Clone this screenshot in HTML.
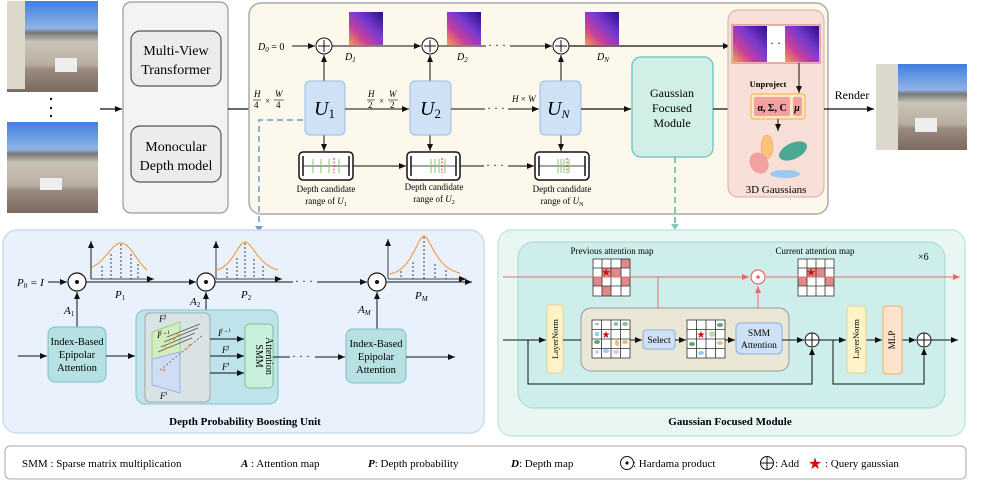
<!DOCTYPE html>
<html><head><meta charset="utf-8"><style>
html,body{margin:0;padding:0;background:#fff;}
svg{display:block;font-family:"Liberation Serif",serif;}
</style></head><body>
<svg width="996" height="482" viewBox="0 0 996 482" xmlns="http://www.w3.org/2000/svg">
<defs>
<marker id="ar" markerWidth="8" markerHeight="8" refX="7" refY="4" orient="auto" markerUnits="userSpaceOnUse"><path d="M0,1 L7,4 L0,7 Z" fill="#111"/></marker>
<marker id="arr" markerWidth="8" markerHeight="8" refX="7" refY="4" orient="auto" markerUnits="userSpaceOnUse"><path d="M0,1 L7,4 L0,7 Z" fill="#e86a6a"/></marker>
<linearGradient id="dep" x1="0" y1="1" x2="1" y2="0"><stop offset="0" stop-color="#f3a04a"/><stop offset="0.3" stop-color="#c8409a"/><stop offset="0.6" stop-color="#7a3ad0"/><stop offset="1" stop-color="#2a0e88"/></linearGradient>
<linearGradient id="ph" x1="0" y1="0" x2="0" y2="1"><stop offset="0" stop-color="#3f7fe0"/><stop offset="0.3" stop-color="#8fb3e6"/><stop offset="0.35" stop-color="#777"/><stop offset="0.45" stop-color="#c9c4b8"/><stop offset="0.7" stop-color="#b8aea0"/><stop offset="0.75" stop-color="#9a8a80"/><stop offset="1" stop-color="#7a6a60"/></linearGradient>
</defs>

<!-- left photos -->
<rect x="7" y="1" width="91" height="91" fill="url(#ph)"/>
<rect x="7" y="1" width="18" height="88" fill="#ddd8cc"/>
<rect x="55" y="58" width="22" height="14" fill="#eee"/>
<circle cx="51" cy="99" r="1.2" fill="#111"/><circle cx="51" cy="108" r="1.2" fill="#111"/><circle cx="51" cy="116" r="1.2" fill="#111"/>
<rect x="7" y="122" width="91" height="91" fill="url(#ph)"/>
<rect x="40" y="178" width="22" height="12" fill="#eee"/>
<line x1="100" y1="109" x2="122" y2="109" stroke="#111" stroke-width="1.3" marker-end="url(#ar)"/>

<!-- grey box -->
<rect x="123" y="2" width="105" height="211" rx="8" fill="#f3f3f3" stroke="#999" stroke-width="1.2"/>
<rect x="131" y="31" width="90" height="55" rx="9" fill="#ececec" stroke="#555" stroke-width="1.2"/>
<text x="176" y="55" font-size="14" text-anchor="middle">Multi-View</text>
<text x="176" y="74" font-size="14" text-anchor="middle">Transformer</text>
<rect x="131" y="126" width="90" height="56" rx="9" fill="#ececec" stroke="#555" stroke-width="1.2"/>
<text x="176" y="151" font-size="14" text-anchor="middle">Monocular</text>
<text x="176" y="170" font-size="14" text-anchor="middle">Depth model</text>
<line x1="228" y1="109" x2="304" y2="109" stroke="#111" stroke-width="1.3" marker-end="url(#ar)"/>

<!-- main box -->
<rect x="249" y="3" width="579" height="211" rx="12" fill="#fcf8ec" stroke="#aaa" stroke-width="1.5"/>
<!-- depth line -->
<text x="258" y="50" font-size="10" font-style="italic">D<tspan font-size="7" dy="2">0</tspan><tspan dy="-2" font-style="normal"> = 0</tspan></text>
<line x1="292" y1="46" x2="315" y2="46" stroke="#111" stroke-width="1" marker-end="url(#ar)"/>
<g stroke="#111" stroke-width="1" fill="#fff">
<circle cx="324" cy="46" r="8"/><circle cx="430" cy="46" r="8"/><circle cx="561" cy="46" r="8"/>
</g>
<g stroke="#111" stroke-width="1"><path d="M318,46h12M324,40v12M424,46h12M430,40v12M555,46h12M561,40v12"/></g>
<line x1="332" y1="46" x2="421" y2="46" stroke="#111" stroke-width="1" marker-end="url(#ar)"/>
<line x1="438" y1="46" x2="486" y2="46" stroke="#111" stroke-width="1"/>
<text x="488" y="49" font-size="12">· · ·</text>
<line x1="510" y1="46" x2="552" y2="46" stroke="#111" stroke-width="1" marker-end="url(#ar)"/>
<line x1="569" y1="46" x2="730" y2="46" stroke="#111" stroke-width="1.3" marker-end="url(#ar)"/>
<rect x="349" y="12" width="34" height="33" fill="url(#dep)"/>
<rect x="447" y="12" width="34" height="33" fill="url(#dep)"/>
<rect x="585" y="12" width="34" height="33" fill="url(#dep)"/>
<text x="345" y="60" font-size="10" font-style="italic">D<tspan font-size="7" dy="2">1</tspan></text>
<text x="457" y="60" font-size="10" font-style="italic">D<tspan font-size="7" dy="2">2</tspan></text>
<text x="597" y="60" font-size="10" font-style="italic">D<tspan font-size="7" dy="2">N</tspan></text>
<!-- vertical arrows U->plus -->
<g stroke="#111" stroke-width="1">
<line x1="324" y1="81" x2="324" y2="55" marker-end="url(#ar)"/>
<line x1="430" y1="81" x2="430" y2="55" marker-end="url(#ar)"/>
<line x1="561" y1="81" x2="561" y2="55" marker-end="url(#ar)"/>
<line x1="324" y1="135" x2="324" y2="151" marker-end="url(#ar)"/>
<line x1="430" y1="135" x2="430" y2="151" marker-end="url(#ar)"/>
<line x1="561" y1="135" x2="561" y2="151" marker-end="url(#ar)"/>
</g>
<!-- U boxes -->
<g fill="#cfe2f5" stroke="#9bbbe0" stroke-width="1">
<rect x="305" y="81" width="40" height="54" rx="5"/>
<rect x="410" y="81" width="41" height="54" rx="5"/>
<rect x="540" y="81" width="41" height="54" rx="5"/>
</g>
<text x="314" y="115" font-size="20" font-style="italic">U<tspan font-size="13" dy="3" font-style="normal">1</tspan></text>
<text x="420" y="115" font-size="20" font-style="italic">U<tspan font-size="13" dy="3" font-style="normal">2</tspan></text>
<text x="547" y="115" font-size="20" font-style="italic">U<tspan font-size="12" dy="3">N</tspan></text>
<!-- main flow -->
<g font-size="9" font-style="italic">
<text x="254" y="97">H</text><line x1="253" y1="100" x2="261" y2="100" stroke="#111" stroke-width="0.6"/><text x="254" y="108" font-style="normal">4</text>
<text x="265" y="104" font-style="normal">×</text>
<text x="275" y="97">W</text><line x1="274" y1="100" x2="284" y2="100" stroke="#111" stroke-width="0.6"/><text x="276" y="108" font-style="normal">4</text>
<text x="368" y="97">H</text><line x1="367" y1="100" x2="375" y2="100" stroke="#111" stroke-width="0.6"/><text x="368" y="108" font-style="normal">2</text>
<text x="379" y="104" font-style="normal">×</text>
<text x="389" y="97">W</text><line x1="388" y1="100" x2="398" y2="100" stroke="#111" stroke-width="0.6"/><text x="390" y="108" font-style="normal">2</text>
<text x="512" y="102">H <tspan font-style="normal">×</tspan> W</text>
</g>
<line x1="345" y1="109" x2="409" y2="109" stroke="#111" stroke-width="1" marker-end="url(#ar)"/>
<line x1="451" y1="109" x2="485" y2="109" stroke="#111" stroke-width="1"/>
<text x="487" y="112" font-size="12">· · ·</text>
<line x1="508" y1="109" x2="539" y2="109" stroke="#111" stroke-width="1" marker-end="url(#ar)"/>
<line x1="581" y1="109" x2="631" y2="109" stroke="#111" stroke-width="1.3" marker-end="url(#ar)"/>
<!-- candidate boxes -->
<g>
<rect x="299" y="152" width="54" height="28" rx="4" fill="#fff" stroke="#111" stroke-width="1.5"/>
<rect x="407" y="152" width="53" height="28" rx="4" fill="#fff" stroke="#111" stroke-width="1.5"/>
<rect x="535" y="152" width="54" height="28" rx="4" fill="#fff" stroke="#111" stroke-width="1.5"/>
<g stroke="#111" stroke-width="1.5"><path d="M303,156v20M349,156v20M411,156v20M456,156v20M539,156v20M585,156v20"/></g>
<g stroke="#111" stroke-width="0.8"><path d="M303,166h46M411,166h45M539,166h46"/></g>
<g stroke="#8cc46a" stroke-width="1"><path d="M313,159v14M321,159v14M329,159v14M339,159v14M431,159v14M435,159v14M439,159v14M445,159v14M558,159v14M561,159v14M564,159v14M569,159v14"/></g>
<g stroke="#e03030" stroke-width="1" stroke-dasharray="2,1.5"><path d="M334,158v15M442,158v15M567,158v15"/></g>
</g>
<line x1="353" y1="166" x2="406" y2="166" stroke="#111" stroke-width="1" marker-end="url(#ar)"/>
<line x1="460" y1="166" x2="484" y2="166" stroke="#111" stroke-width="1"/>
<text x="486" y="169" font-size="12">· · ·</text>
<line x1="508" y1="166" x2="534" y2="166" stroke="#111" stroke-width="1" marker-end="url(#ar)"/>
<g font-size="9" text-anchor="middle">
<text x="326" y="192">Depth candidate</text><text x="326" y="204">range of <tspan font-style="italic">U</tspan><tspan font-size="6" dy="2">1</tspan></text>
<text x="434" y="190">Depth candidate</text><text x="434" y="202">range of <tspan font-style="italic">U</tspan><tspan font-size="6" dy="2">2</tspan></text>
<text x="562" y="192">Depth candidate</text><text x="562" y="204">range of <tspan font-style="italic">U</tspan><tspan font-size="6" dy="2">N</tspan></text>
</g>
<!-- GFM -->
<rect x="632" y="57" width="81" height="100" rx="9" fill="#d2efe7" stroke="#6fcfc0" stroke-width="1.5"/>
<text x="672" y="97" font-size="12" text-anchor="middle">Gaussian</text>
<text x="672" y="112" font-size="12" text-anchor="middle">Focused</text>
<text x="672" y="127" font-size="12" text-anchor="middle">Module</text>
<line x1="713" y1="109" x2="750" y2="109" stroke="#111" stroke-width="1.3" marker-end="url(#ar)"/>
<!-- 3D Gaussians -->
<rect x="728" y="10" width="96" height="187" rx="10" fill="#f8dfd8" stroke="#ccb0a8" stroke-width="1"/>
<rect x="732" y="25" width="88" height="38" fill="#fff" stroke="#d46a6a" stroke-width="1"/>
<rect x="733" y="26" width="34" height="36" fill="url(#dep)"/>
<text x="770" y="47" font-size="12">· · ·</text>
<rect x="785" y="26" width="34" height="36" fill="url(#dep)"/>
<text x="768" y="87" font-size="8.5" text-anchor="middle" font-weight="bold">Unproject</text>
<line x1="799" y1="63" x2="799" y2="93" stroke="#111" stroke-width="1" marker-end="url(#ar)"/>
<rect x="751" y="94" width="54" height="25" rx="3" fill="#fde9c0" stroke="#f0b040" stroke-width="1"/>
<rect x="754" y="97" width="36" height="19" rx="2" fill="#f2a0a0"/>
<rect x="793" y="97" width="9" height="19" rx="2" fill="#f2a0a0"/>
<text x="772" y="111" font-size="10" font-weight="bold" text-anchor="middle">α, Σ, C</text>
<text x="797" y="111" font-size="10" font-weight="bold" font-style="italic" text-anchor="middle">μ</text>
<line x1="778" y1="119" x2="778" y2="131" stroke="#111" stroke-width="1" marker-end="url(#ar)"/>
<ellipse cx="767" cy="147" rx="6" ry="12" fill="#fbc27a" stroke="#f0a050" stroke-width="0.5"/>
<ellipse cx="793" cy="151" rx="15" ry="8" transform="rotate(-25 793 151)" fill="#4aa894"/>
<ellipse cx="759" cy="163" rx="9" ry="11" transform="rotate(-30 759 163)" fill="#f2a0a0"/>
<ellipse cx="785" cy="174" rx="15" ry="4" fill="#9cc9f2"/>
<text x="776" y="193" font-size="11" text-anchor="middle">3D Gaussians</text>
<!-- render -->
<line x1="824" y1="109" x2="874" y2="109" stroke="#111" stroke-width="1.3" marker-end="url(#ar)"/>
<text x="852" y="99" font-size="12" text-anchor="middle">Render</text>
<rect x="876" y="64" width="91" height="86" fill="url(#ph)"/>
<rect x="876" y="64" width="22" height="86" fill="#ddd8cc"/>
<rect x="915" y="118" width="22" height="14" fill="#eee"/>

<!-- dashed connectors -->
<path d="M303,120 H259 V226" fill="none" stroke="#8fb0d8" stroke-width="2" stroke-dasharray="6,4"/>
<path d="M255,226 L263,226 L259,232 Z" fill="#7a98c8"/>
<path d="M675,157 V224" fill="none" stroke="#7cc8b8" stroke-width="2" stroke-dasharray="6,4"/>
<path d="M671,224 L679,224 L675,230 Z" fill="#7cc8b8"/>

<!-- ===== bottom left panel ===== -->
<rect x="3" y="230" width="481" height="203" rx="14" fill="#e9f2fc" stroke="#c8dcef" stroke-width="1.5"/>
<text x="17" y="286" font-size="11" font-style="italic">P<tspan font-size="7" dy="2" font-style="normal">0</tspan><tspan dy="-2"> = I</tspan></text>
<line x1="48" y1="282" x2="67" y2="282" stroke="#111" stroke-width="1" marker-end="url(#ar)"/>
<g stroke="#111" stroke-width="1.2" fill="#fff">
<circle cx="77" cy="282" r="9"/><circle cx="206" cy="282" r="9"/><circle cx="377" cy="282" r="9"/>
</g>
<circle cx="77" cy="282" r="2" fill="#111"/><circle cx="206" cy="282" r="2" fill="#111"/><circle cx="377" cy="282" r="2" fill="#111"/>
<line x1="86" y1="282" x2="196" y2="282" stroke="#111" stroke-width="1" marker-end="url(#ar)"/>
<line x1="215" y1="282" x2="293" y2="282" stroke="#111" stroke-width="1"/>
<text x="295" y="285" font-size="12">· · ·</text>
<line x1="317" y1="282" x2="367" y2="282" stroke="#111" stroke-width="1" marker-end="url(#ar)"/>
<line x1="386" y1="282" x2="472" y2="282" stroke="#111" stroke-width="1" marker-end="url(#ar)"/>
<!-- plots -->
<g stroke="#111" stroke-width="0.8" fill="none">
<path d="M91,279 V241 M91,279 H154" marker-end="url(#ar)"/>
<line x1="91" y1="279" x2="91" y2="241" marker-end="url(#ar)"/>
<line x1="216" y1="279" x2="216" y2="241" marker-end="url(#ar)"/>
<line x1="216" y1="279" x2="282" y2="279" marker-end="url(#ar)"/>
<line x1="388" y1="279" x2="388" y2="239" marker-end="url(#ar)"/>
<line x1="388" y1="279" x2="466" y2="279" marker-end="url(#ar)"/>
</g>
<g stroke="#f0a050" stroke-width="1.2" fill="none">
<path d="M92,267 C105,262 112,243 121,243 C130,243 137,262 147,270"/>
<path d="M216,270 C232,268 238,242 245,242 C252,242 258,265 278,270"/>
<path d="M390,274 C412,270 418,236 424,236 C430,236 435,268 460,273"/>
</g>
<g stroke="#111" stroke-width="0.8" stroke-dasharray="2,2">
<path d="M102,266V279M111,254V279M121,244V279M131,254V279M138,264V279"/>
<path d="M227,268V279M237,258V279M245,243V279M254,259V279M263,266V279"/>
<path d="M401,271V279M413,262V279M424,237V279M435,264V279M446,270V279"/>
</g>
<text x="115" y="298" font-size="11" font-style="italic">P<tspan font-size="7" dy="2" font-style="normal">1</tspan></text>
<text x="241" y="298" font-size="11" font-style="italic">P<tspan font-size="7" dy="2" font-style="normal">2</tspan></text>
<text x="415" y="299" font-size="11" font-style="italic">P<tspan font-size="7" dy="2">M</tspan></text>
<text x="64" y="314" font-size="11" font-style="italic">A<tspan font-size="7" dy="2" font-style="normal">1</tspan></text>
<text x="190" y="305" font-size="11" font-style="italic">A<tspan font-size="7" dy="2" font-style="normal">2</tspan></text>
<text x="358" y="313" font-size="11" font-style="italic">A<tspan font-size="7" dy="2">M</tspan></text>
<line x1="77" y1="327" x2="77" y2="292" stroke="#111" stroke-width="1" marker-end="url(#ar)"/>
<line x1="206" y1="310" x2="206" y2="292" stroke="#111" stroke-width="1" marker-end="url(#ar)"/>
<line x1="377" y1="329" x2="377" y2="292" stroke="#111" stroke-width="1" marker-end="url(#ar)"/>
<!-- index boxes -->
<rect x="48" y="327" width="58" height="55" rx="7" fill="#b7e0e2" stroke="#76c0c6" stroke-width="1"/>
<g font-size="10.5" text-anchor="middle"><text x="77" y="345">Index-Based</text><text x="77" y="358">Epipolar</text><text x="77" y="371">Attention</text></g>
<rect x="346" y="329" width="60" height="54" rx="7" fill="#b7e0e2" stroke="#76c0c6" stroke-width="1"/>
<g font-size="10.5" text-anchor="middle"><text x="376" y="347">Index-Based</text><text x="376" y="360">Epipolar</text><text x="376" y="373">Attention</text></g>
<line x1="18" y1="356" x2="47" y2="356" stroke="#111" stroke-width="1" marker-end="url(#ar)"/>
<line x1="106" y1="356" x2="135" y2="356" stroke="#111" stroke-width="1" marker-end="url(#ar)"/>
<!-- middle box -->
<rect x="136" y="310" width="142" height="94" rx="9" fill="#bfe3ea" stroke="#7ec4cc" stroke-width="1"/>
<rect x="145" y="313" width="65" height="89" rx="5" fill="#d9e3e6" stroke="#999" stroke-width="0.8"/>
<polygon points="152,332 180,322 180,357 152,367" fill="#d3ecc0" stroke="#8cc46a" stroke-width="0.7"/>
<polygon points="152,359 180,352 180,393 152,385" fill="#cfdcf4" stroke="#8aa6d8" stroke-width="0.7"/>
<g stroke="#555" stroke-width="0.7">
<path d="M158,352L192,338M161,347L195,333M164,342L198,328M167,337L200,324"/>
</g>
<path d="M160,370 L203,335" stroke="#555" stroke-width="0.7" stroke-dasharray="2,2"/>
<g fill="#f29a3a"><circle cx="166" cy="348" r="1.3"/><circle cx="170" cy="343" r="1.3"/><circle cx="174" cy="339" r="1.3"/><circle cx="178" cy="335" r="1.3"/><circle cx="186" cy="349" r="1.3"/><circle cx="190" cy="345" r="1.3"/><circle cx="164" cy="370" r="1.3"/></g>
<text x="159" y="322" font-size="9" font-style="italic">F<tspan font-size="6" dy="-4">j</tspan></text>
<text x="157" y="338" font-size="9" font-style="italic">I<tspan font-size="6" dy="-4">j→i</tspan></text>
<text x="160" y="399" font-size="9" font-style="italic">F<tspan font-size="6" dy="-4">i</tspan></text>
<g stroke="#111" stroke-width="1">
<line x1="210" y1="339" x2="244" y2="339" marker-end="url(#ar)"/>
<line x1="210" y1="356" x2="244" y2="356" marker-end="url(#ar)"/>
<line x1="210" y1="373" x2="244" y2="373" marker-end="url(#ar)"/>
</g>
<text x="218" y="336" font-size="9" font-style="italic">I<tspan font-size="6" dy="-4">j→i</tspan></text>
<text x="222" y="353" font-size="9" font-style="italic">F<tspan font-size="6" dy="-4">j</tspan></text>
<text x="222" y="370" font-size="9" font-style="italic">F<tspan font-size="6" dy="-4">i</tspan></text>
<rect x="245" y="324" width="28" height="64" rx="4" fill="#c9f0dc" stroke="#7cbf9a" stroke-width="1"/>
<text transform="translate(256,356) rotate(90)" font-size="10" text-anchor="middle">SMM</text>
<text transform="translate(266,356) rotate(90)" font-size="10" text-anchor="middle">Attention</text>
<line x1="273" y1="357" x2="290" y2="357" stroke="#111" stroke-width="1"/>
<text x="292" y="360" font-size="12">· · ·</text>
<line x1="315" y1="357" x2="345" y2="357" stroke="#111" stroke-width="1" marker-end="url(#ar)"/>
<line x1="406" y1="357" x2="455" y2="357" stroke="#111" stroke-width="1" marker-end="url(#ar)"/>
<text x="245" y="425" font-size="11" font-weight="bold" text-anchor="middle">Depth Probability Boosting Unit</text>

<!-- ===== bottom right panel ===== -->
<rect x="498" y="230" width="467" height="206" rx="14" fill="#e9f7f4" stroke="#c6e6df" stroke-width="1.5"/>
<rect x="518" y="242" width="427" height="166" rx="16" fill="#cdeeea" stroke="#a8d6cf" stroke-width="1"/>
<text x="612" y="254" font-size="9" text-anchor="middle">Previous attention map</text>
<text x="815" y="254" font-size="9" text-anchor="middle">Current attention map</text>
<text x="918" y="260" font-size="10">×6</text>
<!-- grids -->
<g>
<rect x="593" y="259" width="37" height="37" fill="#fff"/>
<g fill="#e28888"><rect x="621" y="259" width="9" height="9"/><rect x="602" y="268" width="19" height="9"/><rect x="593" y="277" width="9" height="9"/><rect x="621" y="277" width="9" height="9"/><rect x="602" y="286" width="9" height="10"/></g>
<g stroke="#333" stroke-width="0.8" fill="none"><rect x="593" y="259" width="37" height="37"/><path d="M602,259V296M611,259V296M621,259V296M593,268H630M593,277H630M593,286H630"/></g>
<text x="606" y="276" font-size="11" fill="#d01010" text-anchor="middle">★</text>
</g>
<g>
<rect x="798" y="259" width="36" height="37" fill="#fff"/>
<g fill="#e28888"><rect x="807" y="268" width="18" height="9"/><rect x="798" y="277" width="9" height="9"/><rect x="825" y="277" width="9" height="9"/></g>
<g stroke="#333" stroke-width="0.8" fill="none"><rect x="798" y="259" width="36" height="37"/><path d="M807,259V296M816,259V296M825,259V296M798,268H834M798,277H834M798,286H834"/></g>
<text x="811" y="276" font-size="11" fill="#d01010" text-anchor="middle">★</text>
</g>
<line x1="503" y1="277" x2="749" y2="277" stroke="#e86a6a" stroke-width="1" marker-end="url(#arr)"/>
<line x1="766" y1="277" x2="960" y2="277" stroke="#e86a6a" stroke-width="1" marker-end="url(#arr)"/>
<line x1="658" y1="277" x2="658" y2="329" stroke="#e86a6a" stroke-width="1" marker-end="url(#arr)"/>
<line x1="758" y1="323" x2="758" y2="286" stroke="#e86a6a" stroke-width="1" marker-end="url(#arr)"/>
<circle cx="758" cy="277" r="7" fill="#fff" stroke="#e86a6a" stroke-width="1.2"/>
<circle cx="758" cy="277" r="1.8" fill="#e86a6a"/>
<!-- main flow -->
<rect x="547" y="305" width="16" height="68" rx="3" fill="#fdf3c6" stroke="#e6d38a" stroke-width="1"/>
<text transform="translate(555,339) rotate(-90)" font-size="8.5" text-anchor="middle" dy="3">LayerNorm</text>
<rect x="581" y="308" width="208" height="63" rx="10" fill="#eae7d6" stroke="#999" stroke-width="1"/>
<rect x="592" y="320" width="38" height="38" fill="#fff"/>
<g fill="#8fc49a"><ellipse cx="597" cy="324" rx="2" ry="1"/><ellipse cx="616" cy="324" rx="2.5" ry="2"/><ellipse cx="625" cy="324" rx="3" ry="2"/></g>
<g fill="#9cc9f2"><rect x="595" y="332" width="4" height="4"/><ellipse cx="606" cy="351" rx="3" ry="2"/></g>
<g fill="#f0b878"><ellipse cx="617" cy="343" rx="2" ry="3"/><ellipse cx="625" cy="342" rx="3" ry="2"/></g>
<ellipse cx="597" cy="342" rx="3" ry="2" fill="#5aa870"/>
<g fill="#d8c8e8"><ellipse cx="597" cy="352" rx="2" ry="2"/><ellipse cx="616" cy="352" rx="3" ry="2"/></g>
<g stroke="#333" stroke-width="0.8" fill="none"><rect x="592" y="320" width="38" height="38"/><path d="M601.5,320V358M611,320V358M620.5,320V358M592,329.5H630M592,339H630M592,348.5H630"/></g>
<text x="606" y="338" font-size="10" fill="#d01010" text-anchor="middle">★</text>
<rect x="643" y="330" width="32" height="19" rx="3" fill="#cfe2f5" stroke="#8aaee0" stroke-width="1"/>
<text x="659" y="343" font-size="9.5" text-anchor="middle">Select</text>
<rect x="687" y="320" width="38" height="38" fill="#fff"/>
<ellipse cx="720" cy="325" rx="3" ry="2" fill="#5aa870"/><ellipse cx="712" cy="334" rx="3" ry="3" fill="#b8dcb0"/><ellipse cx="692" cy="344" rx="3" ry="2" fill="#5aa870"/><ellipse cx="720" cy="343" rx="3" ry="2" fill="#f0b878"/><ellipse cx="701" cy="353" rx="3" ry="2" fill="#9cc9f2"/>
<g stroke="#333" stroke-width="0.8" fill="none"><rect x="687" y="320" width="38" height="38"/><path d="M696.5,320V358M706,320V358M715.5,320V358M687,329.5H725M687,339H725M687,348.5H725"/></g>
<text x="701" y="338" font-size="10" fill="#d01010" text-anchor="middle">★</text>
<rect x="736" y="323" width="46" height="31" rx="5" fill="#cfe2f5" stroke="#8aaee0" stroke-width="1"/>
<text x="759" y="336" font-size="9.5" text-anchor="middle">SMM</text>
<text x="759" y="348" font-size="9.5" text-anchor="middle">Attention</text>
<g stroke="#111" stroke-width="1" fill="none">
<line x1="503" y1="340" x2="546" y2="340" marker-end="url(#ar)"/>
<line x1="563" y1="340" x2="581" y2="340"/>
<line x1="630" y1="340" x2="642" y2="340" marker-end="url(#ar)"/>
<line x1="675" y1="340" x2="686" y2="340" marker-end="url(#ar)"/>
<line x1="725" y1="340" x2="735" y2="340" marker-end="url(#ar)"/>
<line x1="782" y1="340" x2="804" y2="340" marker-end="url(#ar)"/>
<path d="M528,340 V384 H812 V348" marker-end="url(#ar)"/>
<line x1="819" y1="340" x2="846" y2="340" marker-end="url(#ar)"/>
<line x1="866" y1="340" x2="882" y2="340" marker-end="url(#ar)"/>
<line x1="902" y1="340" x2="916" y2="340" marker-end="url(#ar)"/>
<path d="M833,340 V384 H924 V348" marker-end="url(#ar)"/>
<line x1="931" y1="340" x2="958" y2="340" marker-end="url(#ar)"/>
</g>
<g stroke="#111" stroke-width="1" fill="#fff"><circle cx="812" cy="340" r="7"/><circle cx="924" cy="340" r="7"/></g>
<path d="M805,340h14M812,333v14M917,340h14M924,333v14" stroke="#111" stroke-width="1"/>
<rect x="847" y="306" width="19" height="67" rx="3" fill="#fdf3c6" stroke="#e6d38a" stroke-width="1"/>
<text transform="translate(856,339) rotate(-90)" font-size="8.5" text-anchor="middle" dy="3">LayerNorm</text>
<rect x="883" y="306" width="19" height="68" rx="3" fill="#fde3cc" stroke="#f0b060" stroke-width="1"/>
<text transform="translate(892,340) rotate(-90)" font-size="9" text-anchor="middle" dy="3">MLP</text>
<text x="730" y="425" font-size="11" font-weight="bold" text-anchor="middle">Gaussian Focused Module</text>

<!-- legend -->
<rect x="5" y="446" width="961" height="33" rx="5" fill="#fff" stroke="#aaa" stroke-width="1"/>
<g font-size="11">
<text x="22" y="467">SMM : Sparse matrix multiplication</text>
<text x="241" y="467"><tspan font-style="italic" font-weight="bold">A</tspan> : Attention map</text>
<text x="368" y="467"><tspan font-style="italic" font-weight="bold">P</tspan>: Depth probability</text>
<text x="511" y="467"><tspan font-style="italic" font-weight="bold">D</tspan>: Depth map</text>
<text x="633" y="467">: Hardama product</text>
<text x="775" y="467">: Add</text>
<text x="825" y="467">: Query gaussian</text>
</g>
<circle cx="627" cy="463" r="6.5" fill="#fff" stroke="#111" stroke-width="1"/><circle cx="627" cy="463" r="1.6" fill="#111"/>
<circle cx="767" cy="463" r="6.5" fill="#fff" stroke="#111" stroke-width="1"/><path d="M760.5,463h13M767,456.5v13" stroke="#111" stroke-width="1"/>
<text x="815" y="469" font-size="16" fill="#d01010" text-anchor="middle">★</text>
</svg>
</body></html>
